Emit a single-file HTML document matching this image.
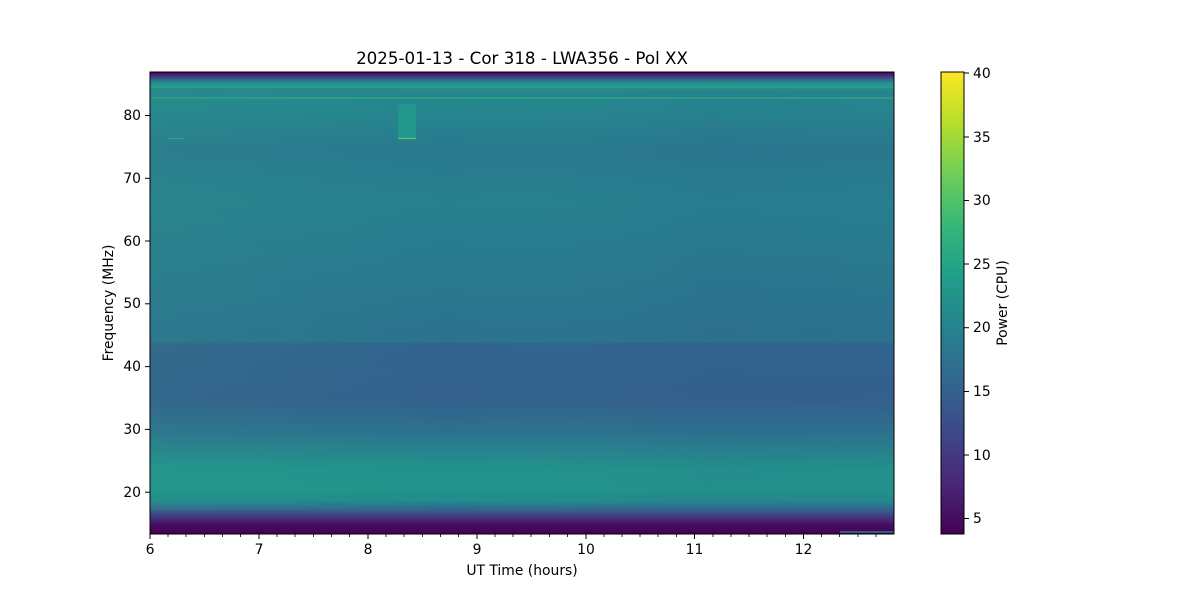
<!DOCTYPE html>
<html><head><meta charset="utf-8"><style>body{margin:0;background:#fff}svg{display:block}text{font-family:"DejaVu Sans","Liberation Sans",sans-serif;fill:#000}</style></head>
<body>
<svg width="1200" height="600" viewBox="0 0 1200 600" xmlns="http://www.w3.org/2000/svg">
<defs>
<linearGradient id="v" x1="0" y1="0" x2="0" y2="1">
<stop offset="0" stop-color="#440154"/>
<stop offset="0.009" stop-color="#46337f"/>
<stop offset="0.017" stop-color="#2f6b8e"/>
<stop offset="0.026" stop-color="#23988b"/>
<stop offset="0.04" stop-color="#24878e"/>
<stop offset="0.082" stop-color="#25868e"/>
<stop offset="0.169" stop-color="#29788e"/>
<stop offset="0.277" stop-color="#26808e"/>
<stop offset="0.494" stop-color="#2a768e"/>
<stop offset="0.585" stop-color="#2b728e"/>
<stop offset="0.588" stop-color="#30648d"/>
<stop offset="0.71" stop-color="#33608d"/>
<stop offset="0.775" stop-color="#2c718e"/>
<stop offset="0.861" stop-color="#22938c"/>
<stop offset="0.9" stop-color="#21958b"/>
<stop offset="0.928" stop-color="#238a8d"/>
<stop offset="0.948" stop-color="#33638d"/>
<stop offset="0.963" stop-color="#453781"/>
<stop offset="0.98" stop-color="#460e5f"/>
<stop offset="1" stop-color="#440154"/>
</linearGradient>
<linearGradient id="h" x1="0" y1="0" x2="1" y2="0">
<stop offset="0" stop-color="#3fae85" stop-opacity="0.1"/>
<stop offset="0.4" stop-color="#3fae85" stop-opacity="0"/>
<stop offset="0.75" stop-color="#34508a" stop-opacity="0.08"/>
<stop offset="1" stop-color="#34508a" stop-opacity="0.04"/>
</linearGradient>
<linearGradient id="cb" x1="0" y1="1" x2="0" y2="0">
<stop offset="0" stop-color="#440154"/>
<stop offset="0.111" stop-color="#482878"/>
<stop offset="0.222" stop-color="#3e4989"/>
<stop offset="0.333" stop-color="#31688e"/>
<stop offset="0.444" stop-color="#26828e"/>
<stop offset="0.556" stop-color="#1f9e89"/>
<stop offset="0.667" stop-color="#35b779"/>
<stop offset="0.778" stop-color="#6ece58"/>
<stop offset="0.889" stop-color="#b5de2b"/>
<stop offset="1" stop-color="#fde725"/>
</linearGradient>
</defs>
<text x="522" y="64" font-size="16.7" text-anchor="middle">2025-01-13 - Cor 318 - LWA356 - Pol XX</text>
<rect x="150" y="72" width="744" height="462" fill="url(#v)"/>
<rect x="150" y="90" width="744" height="420" fill="url(#h)"/>
<line x1="150" y1="87" x2="894" y2="87" stroke="#2aa884" stroke-width="1"/>
<line x1="150" y1="98" x2="894" y2="98" stroke="#32b07c" stroke-width="1"/>
<rect x="398" y="104" width="18" height="34" fill="#23968b"/>
<line x1="398" y1="138.5" x2="416" y2="138.5" stroke="#5cc863" stroke-width="1.2"/>
<line x1="168" y1="138.5" x2="184" y2="138.5" stroke="#2aa884" stroke-width="1"/>
<line x1="840" y1="532" x2="894" y2="532" stroke="#2a7b8e" stroke-width="1.5"/>
<rect x="150" y="72" width="744" height="462" fill="none" stroke="#000" stroke-width="1"/>
<g stroke="#000" stroke-width="1">
<line x1="150" y1="534" x2="150" y2="539"/><line x1="259" y1="534" x2="259" y2="539"/><line x1="368" y1="534" x2="368" y2="539"/><line x1="477" y1="534" x2="477" y2="539"/><line x1="586" y1="534" x2="586" y2="539"/><line x1="694.5" y1="534" x2="694.5" y2="539"/><line x1="803.5" y1="534" x2="803.5" y2="539"/>
<line x1="145" y1="115.5" x2="150" y2="115.5"/><line x1="145" y1="178.3" x2="150" y2="178.3"/><line x1="145" y1="241" x2="150" y2="241"/><line x1="145" y1="303.8" x2="150" y2="303.8"/><line x1="145" y1="366.6" x2="150" y2="366.6"/><line x1="145" y1="429.4" x2="150" y2="429.4"/><line x1="145" y1="492.2" x2="150" y2="492.2"/>
</g>
<g stroke="#000" stroke-width="0.8">
<path d="M168 534v3M186 534v3M204.5 534v3M222.5 534v3M240.5 534v3M277 534v3M295 534v3M313.5 534v3M331.5 534v3M349.5 534v3M386 534v3M404 534v3M422.5 534v3M440.5 534v3M458.5 534v3M495 534v3M513 534v3M531 534v3M549.5 534v3M567.5 534v3M604 534v3M622 534v3M640 534v3M658 534v3M676.5 534v3M713 534v3M731 534v3M749 534v3M767 534v3M785.5 534v3M821.5 534v3M839.5 534v3M858 534v3M876 534v3"/>
</g>
<g font-size="13.9" text-anchor="middle">
<text x="150" y="554">6</text><text x="259" y="554">7</text><text x="368" y="554">8</text><text x="477" y="554">9</text><text x="586" y="554">10</text><text x="694.5" y="554">11</text><text x="803.5" y="554">12</text>
</g>
<g font-size="13.9" text-anchor="end">
<text x="141" y="120">80</text><text x="141" y="183">70</text><text x="141" y="246">60</text><text x="141" y="308">50</text><text x="141" y="371">40</text><text x="141" y="434">30</text><text x="141" y="497">20</text>
</g>
<text x="522" y="575" font-size="13.9" text-anchor="middle">UT Time (hours)</text>
<text x="113" y="303" font-size="13.9" text-anchor="middle" transform="rotate(-90 113 303)">Frequency (MHz)</text>
<rect x="941" y="72" width="23" height="462" fill="url(#cb)" stroke="#000" stroke-width="1"/>
<g stroke="#000" stroke-width="1">
<line x1="964" y1="518.5" x2="969" y2="518.5"/><line x1="964" y1="455" x2="969" y2="455"/><line x1="964" y1="391.5" x2="969" y2="391.5"/><line x1="964" y1="327.7" x2="969" y2="327.7"/><line x1="964" y1="264" x2="969" y2="264"/><line x1="964" y1="200.5" x2="969" y2="200.5"/><line x1="964" y1="137" x2="969" y2="137"/><line x1="964" y1="73" x2="969" y2="73"/>
</g>
<g font-size="13.9">
<text x="973" y="523">5</text><text x="973" y="460">10</text><text x="973" y="396">15</text><text x="973" y="332">20</text><text x="973" y="269">25</text><text x="973" y="205">30</text><text x="973" y="142">35</text><text x="973" y="78">40</text>
</g>
<text x="1007" y="303" font-size="13.9" text-anchor="middle" transform="rotate(-90 1007 303)">Power (CPU)</text>
</svg>
</body></html>
